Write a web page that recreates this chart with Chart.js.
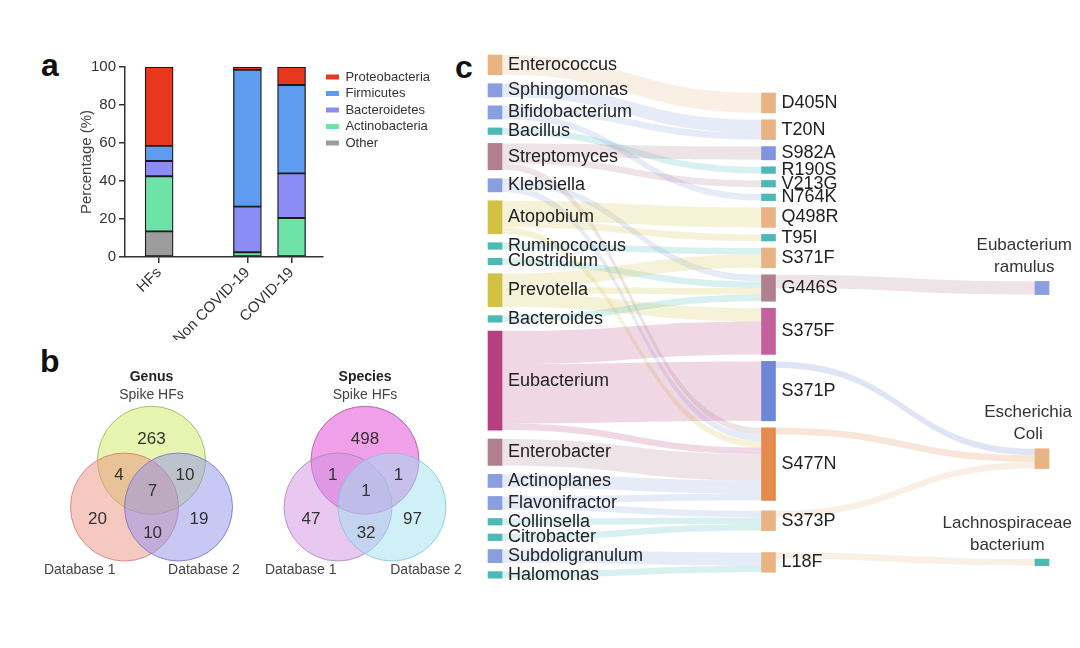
<!DOCTYPE html>
<html>
<head>
<meta charset="utf-8">
<script src="https://cdn.jsdelivr.net/npm/chart.js@4.4.0/dist/chart.umd.min.js"></script>
<style>
  html, body { margin: 0; padding: 0; background: #fff; }
  body { width: 1080px; height: 648px; position: relative; overflow: hidden; font-family: 'Liberation Sans', Arial, sans-serif; }
  .panel-letter { position: absolute; font-weight: bold; font-size: 32px; line-height: 32px; color: #111; }
  .box { position: absolute; }
</style>
</head>
<body>
<div class="panel-letter" style="left:41px;top:49px">a</div>
<div class="panel-letter" style="left:40px;top:345px">b</div>
<div class="panel-letter" style="left:455px;top:51px">c</div>

<div class="box" style="left:30px;top:45px;width:440px;height:295px"><canvas id="barChart"></canvas></div>
<div class="box" style="left:30px;top:345px;width:440px;height:255px"><canvas id="vennChart"></canvas></div>
<div class="box" style="left:460px;top:45px;width:620px;height:555px"><canvas id="sankeyChart"></canvas></div>

<script>
// ---------------- DATA ----------------
// Panel a: stacked composition (%)
const barCategories = ['HFs', 'Non COVID-19', 'COVID-19'];
const other          = [13.5, 0,   0];
const actinobacteria = [29,   2.5, 20.5];
const bacteroidetes  = [8,    24,  23.5];
const firmicutes     = [8,    72,  46.5];
const proteobacteria = [41.5, 1.5, 9.5];
const yTicks = [0, 20, 40, 60, 80, 100];

// Panel b: Venn counts, region order: A only, A∩B, A∩C, A∩B∩C, B only, C only, B∩C
const vennSetNames   = ['Spike HFs', 'Database 1', 'Database 2'];
const genusCounts    = [263, 4, 10, 7, 20, 19, 10];
const speciesCounts  = [498, 1, 1, 1, 47, 97, 32];

// Panel c: Sankey
const genusNames = ['Enterococcus','Sphingomonas','Bifidobacterium','Bacillus','Streptomyces','Klebsiella',
  'Atopobium','Ruminococcus','Clostridium','Prevotella','Bacteroides','Eubacterium','Enterobacter',
  'Actinoplanes','Flavonifractor','Collinsella','Citrobacter','Subdoligranulum','Halomonas'];
const mutationNames = ['D405N','T20N','S982A','R190S','V213G','N764K','Q498R','T95I','S371F','G446S',
  'S375F','S371P','S477N','S373P','L18F'];
const speciesNames = ['Eubacterium ramulus','Escherichia Coli','Lachnospiraceae bacterium'];
const genusToMutation = [
  ['Enterococcus','D405N',3],
  ['Sphingomonas','T20N',2],
  ['Bifidobacterium','T20N',1], ['Bifidobacterium','N764K',1],
  ['Bacillus','R190S',1],
  ['Streptomyces','S982A',2], ['Streptomyces','V213G',1], ['Streptomyces','S477N',1],
  ['Klebsiella','G446S',1], ['Klebsiella','S477N',1],
  ['Atopobium','Q498R',3], ['Atopobium','T95I',1], ['Atopobium','S477N',1],
  ['Ruminococcus','S371F',1],
  ['Clostridium','G446S',1],
  ['Prevotella','S371F',2], ['Prevotella','G446S',1], ['Prevotella','S375F',2],
  ['Bacteroides','G446S',1],
  ['Eubacterium','S375F',5], ['Eubacterium','S371P',9], ['Eubacterium','S477N',1],
  ['Enterobacter','S477N',4],
  ['Actinoplanes','S477N',2],
  ['Flavonifractor','S477N',1], ['Flavonifractor','S373P',1],
  ['Collinsella','S373P',1],
  ['Citrobacter','S373P',1],
  ['Subdoligranulum','L18F',2],
  ['Halomonas','L18F',1]
];
const mutationToSpecies = [
  ['G446S','Eubacterium ramulus',2],
  ['S371P','Escherichia Coli',1],
  ['S477N','Escherichia Coli',1],
  ['S373P','Escherichia Coli',1],
  ['L18F','Lachnospiraceae bacterium',1]
];

// ---------------- STYLES / LAYOUT ----------------
const FONT = "'Liberation Sans', Arial, Helvetica, sans-serif";
Chart.defaults.font.family = FONT;
const phylaStyle = [
  { label: 'Other',          values: other,          color: '#9c9c9c' },
  { label: 'Actinobacteria', values: actinobacteria, color: '#6fe3a7' },
  { label: 'Bacteroidetes',  values: bacteroidetes,  color: '#8b8cf5' },
  { label: 'Firmicutes',     values: firmicutes,     color: '#5d9cef' },
  { label: 'Proteobacteria', values: proteobacteria, color: '#e8361f' }
];
const xSlots = [1, 3, 4];   // slot positions of the three bars (gap after HFs)

const C = { tan:'#e9b384', blue:'#8a9fe0', teal:'#4cb9b6', mauve:'#b0808f', olive:'#d3c143',
            magenta:'#b6407f', pink:'#c4619c', royal:'#6d86d6', orange:'#e38a4c', sblue:'#7f95e0' };
const nodeColors = {
  Enterococcus:C.tan, Sphingomonas:C.blue, Bifidobacterium:C.blue, Bacillus:C.teal, Streptomyces:C.mauve,
  Klebsiella:C.blue, Atopobium:C.olive, Ruminococcus:C.teal, Clostridium:C.teal, Prevotella:C.olive,
  Bacteroides:C.teal, Eubacterium:C.magenta, Enterobacter:C.mauve, Actinoplanes:C.blue, Flavonifractor:C.blue,
  Collinsella:C.teal, Citrobacter:C.teal, Subdoligranulum:C.blue, Halomonas:C.teal,
  D405N:C.tan, T20N:C.tan, S982A:C.sblue, R190S:C.teal, V213G:C.teal, N764K:C.teal, Q498R:C.tan, T95I:C.teal,
  S371F:C.tan, G446S:C.mauve, S375F:C.pink, S371P:C.royal, S477N:C.orange, S373P:C.tan, L18F:C.tan,
  'Eubacterium ramulus':C.blue, 'Escherichia Coli':C.tan, 'Lachnospiraceae bacterium':C.teal
};
const sankeyCfg = { unitPx: 6.6, startPx: [10, 48], padPx: [8.9, 7, 7], bottomPx: 533,
                    colMin: -0.128, colMax: 2.139, nodeWidth: 14 };

function hexA(hex, a) {
  const n = parseInt(hex.slice(1), 16);
  return `rgba(${(n>>16)&255},${(n>>8)&255},${n&255},${a})`;
}

// ---------------- PANEL A ----------------
new Chart(document.getElementById('barChart'), {
  type: 'bar',
  data: {
    datasets: phylaStyle.map(p => ({
      label: p.label,
      data: p.values.map((v, i) => ({ x: xSlots[i], y: v })),
      backgroundColor: p.color,
      borderColor: '#1b1b1b',
      borderWidth: 1.3,
      borderSkipped: false,
      barThickness: 28
    }))
  },
  options: {
    responsive: true, maintainAspectRatio: false, animation: false, events: [],
    layout: { padding: { top: 22, right: 30, left: 48, bottom: 0 } },
    scales: {
      x: {
        type: 'linear', stacked: true, min: 0.227, max: 4.70, offset: false,
        afterBuildTicks: s => { s.ticks = xSlots.map(v => ({ value: v })); },
        afterFit: s => { s.height = 83; },
        ticks: { autoSkip: false, minRotation: 45, maxRotation: 45, padding: 1, color: '#333', font: { size: 15 },
                 callback: v => barCategories[xSlots.indexOf(v)] },
        grid: { offset: false, drawOnChartArea: false, drawTicks: true, tickLength: 6, color: '#333', lineWidth: 1.5 },
        border: { display: true, color: '#333', width: 1.5 }
      },
      y: {
        stacked: true, min: 0, max: 100,
        afterBuildTicks: s => { s.ticks = yTicks.map(v => ({ value: v })); },
        afterFit: s => { s.width = 47; },
        ticks: { color: '#333', font: { size: 15 }, padding: 3 },
        grid: { drawOnChartArea: false, drawTicks: true, tickLength: 6, color: '#333', lineWidth: 1.5 },
        border: { display: true, color: '#333', width: 1.5 },
        title: { display: true, text: 'Percentage (%)', color: '#444', font: { size: 15 }, padding: { top: 0, bottom: 0 } }
      }
    },
    plugins: {
      tooltip: { enabled: false },
      legend: {
        position: 'right', align: 'start', reverse: true, maxWidth: 125,
        labels: {
          boxWidth: 13, boxHeight: 5, padding: 3.5, color: '#333', font: { size: 13 },
          generateLabels: chart => Chart.defaults.plugins.legend.labels.generateLabels(chart)
            .map(l => Object.assign(l, { lineWidth: 0, strokeStyle: 'rgba(0,0,0,0)' }))
        }
      }
    }
  }
});

// ---------------- PANEL B ----------------
const vennUnitPx = 54;
const vennCircleOffsets = [[0, 0.866], [-0.5, 0], [0.5, 0]];            // equilateral 3-set layout (radius units)
const vennRegionSpots = [[0, 1.26], [-0.6, 0.58], [0.62, 0.58], [0.02, 0.29], [-1.0, -0.22], [0.88, -0.22], [0.02, -0.48]];
const vennGroups = [
  { title: 'Genus',   counts: genusCounts,   dx: 0,
    fills: ['rgba(209,235,97,0.5)', 'rgba(235,145,129,0.5)', 'rgba(145,145,235,0.5)'],
    strokes: ['rgba(140,185,80,0.8)', 'rgba(215,120,115,0.8)', 'rgba(120,110,200,0.8)'],
    dbX: [-1.33, 0.97] },
  { title: 'Species', counts: speciesCounts, dx: 3.954,
    fills: ['rgba(225,65,209,0.5)', 'rgba(209,145,225,0.5)', 'rgba(161,225,241,0.5)'],
    strokes: ['rgba(170,80,160,0.8)', 'rgba(175,130,195,0.8)', 'rgba(130,195,215,0.8)'],
    dbX: [-1.19, 1.13] }
];
const vennW = 440, vennH = 255;
const vennOrigin = [121.5, 162];
const vennPlugin = {
  id: 'vennText',
  afterDatasetsDraw(chart) {
    const { ctx, scales: { x, y } } = chart;
    ctx.save();
    ctx.textAlign = 'center'; ctx.textBaseline = 'middle';
    vennGroups.forEach(g => {
      ctx.fillStyle = '#333';
      ctx.font = `17px ${FONT}`;
      g.counts.forEach((c, i) => {
        const s = vennRegionSpots[i];
        ctx.fillText(String(c), x.getPixelForValue(g.dx + s[0]), y.getPixelForValue(s[1]));
      });
      ctx.fillStyle = '#222';
      ctx.font = `bold 14px ${FONT}`;
      ctx.fillText(g.title, x.getPixelForValue(g.dx), y.getPixelForValue(2.41));
      ctx.fillStyle = '#444';
      ctx.font = `14px ${FONT}`;
      ctx.fillText(vennSetNames[0], x.getPixelForValue(g.dx), y.getPixelForValue(2.07));
      ctx.fillText(vennSetNames[1], x.getPixelForValue(g.dx + g.dbX[0]), y.getPixelForValue(-1.17));
      ctx.fillText(vennSetNames[2], x.getPixelForValue(g.dx + g.dbX[1]), y.getPixelForValue(-1.17));
    });
    ctx.restore();
  }
};
new Chart(document.getElementById('vennChart'), {
  type: 'scatter',
  data: {
    datasets: vennGroups.map(g => ({
      data: vennCircleOffsets.map(o => ({ x: g.dx + o[0], y: o[1] })),
      pointBackgroundColor: g.fills,
      pointBorderColor: g.strokes,
      pointBorderWidth: 1,
      pointRadius: ctx => ctx.chart.scales.x.getPixelForValue(1) - ctx.chart.scales.x.getPixelForValue(0),
      clip: false
    }))
  },
  options: {
    responsive: true, maintainAspectRatio: false, animation: false, events: [],
    layout: { padding: 0 },
    scales: {
      x: { type: 'linear', display: false, min: -vennOrigin[0] / vennUnitPx, max: (vennW - vennOrigin[0]) / vennUnitPx },
      y: { type: 'linear', display: false, min: -(vennH - vennOrigin[1]) / vennUnitPx, max: vennOrigin[1] / vennUnitPx }
    },
    plugins: { legend: { display: false }, tooltip: { enabled: false } }
  },
  plugins: [vennPlugin]
});

// ---------------- PANEL C ----------------
function buildSankey() {
  const cols = [genusNames, mutationNames, speciesNames];
  const nodes = {};
  cols.forEach((names, c) => names.forEach((n, i) => {
    nodes[n] = { name: n, col: c, idx: i, inV: 0, outV: 0, ins: [], outs: [] };
  }));
  const links = genusToMutation.concat(mutationToSpecies).map(([s, t, v]) => ({ s: nodes[s], t: nodes[t], v }));
  links.forEach(l => { l.s.outV += l.v; l.t.inV += l.v; l.s.outs.push(l); l.t.ins.push(l); });
  Object.values(nodes).forEach(n => { n.v = Math.max(n.inV, n.outV); });
  const u = sankeyCfg.unitPx;
  const target = n => n.ins.reduce((a, l) => a + l.v * (l.s.y0 + l.s.v / 2), 0) / n.inV - n.v / 2;
  cols.forEach((names, c) => {
    const list = names.map(n => nodes[n]);
    const pad = sankeyCfg.padPx[c] / u;
    if (c < 2) {
      let y = sankeyCfg.startPx[c] / u;
      list.forEach(n => { n.y0 = y; y += n.v + pad; });
      if (c === 1) {
        for (let i = list.length - 1; i >= 0; i--) {
          const n = list[i];
          const limit = (i === list.length - 1 ? sankeyCfg.bottomPx / u : list[i + 1].y0 - pad) - n.v;
          n.y0 = Math.max(n.y0, Math.min(target(n), limit));
        }
      }
    } else {
      let prev = -Infinity;
      list.forEach(n => { n.y0 = Math.max(target(n), prev + pad); prev = n.y0 + n.v; });
    }
  });
  Object.values(nodes).forEach(n => {
    let a = n.y0;
    n.outs.sort((p, q) => p.t.y0 - q.t.y0).forEach(l => { l.sy0 = a; a += l.v; });
    let b = n.y0;
    n.ins.sort((p, q) => p.s.y0 - q.s.y0).forEach(l => { l.ty0 = b; b += l.v; });
  });
  return { nodes: Object.values(nodes), links };
}
const sankey = buildSankey();

const sankeyPlugin = {
  id: 'sankeyDraw',
  beforeDatasetsDraw(chart) {
    const { ctx, scales: { x, y } } = chart;
    const half = sankeyCfg.nodeWidth / 2;
    ctx.save();
    sankey.links.forEach(l => {
      const x0 = x.getPixelForValue(l.s.col) + half, x1 = x.getPixelForValue(l.t.col) - half;
      const a0 = y.getPixelForValue(l.sy0), a1 = y.getPixelForValue(l.sy0 + l.v);
      const b0 = y.getPixelForValue(l.ty0), b1 = y.getPixelForValue(l.ty0 + l.v);
      const xm = (x0 + x1) / 2;
      ctx.beginPath();
      ctx.moveTo(x0, a0);
      ctx.bezierCurveTo(xm, a0, xm, b0, x1, b0);
      ctx.lineTo(x1, b1);
      ctx.bezierCurveTo(xm, b1, xm, a1, x0, a1);
      ctx.closePath();
      ctx.fillStyle = hexA(nodeColors[l.s.name], 0.21);
      ctx.fill();
    });
    ctx.restore();
  },
  afterDatasetsDraw(chart) {
    const { ctx, scales: { x, y } } = chart;
    const half = sankeyCfg.nodeWidth / 2;
    ctx.save();
    sankey.nodes.forEach(n => {
      const cx = x.getPixelForValue(n.col);
      if (n.col < 2) {
        ctx.font = `18px ${FONT}`;
        ctx.fillStyle = '#222';
        ctx.textAlign = 'left'; ctx.textBaseline = 'middle';
        ctx.fillText(n.name, cx + half + 6, y.getPixelForValue(n.y0 + n.v / 2));
      } else {
        ctx.font = `17px ${FONT}`;
        ctx.fillStyle = '#333';
        ctx.textAlign = 'center'; ctx.textBaseline = 'middle';
        const lines = n.name.split(' ');
        const maxW = Math.max(...lines.map(t => ctx.measureText(t).width));
        const lx = Math.min(cx, chart.width - 8 - maxW / 2);
        const top = y.getPixelForValue(n.y0);
        lines.forEach((t, i) => ctx.fillText(t, lx, top - 14 - (lines.length - 1 - i) * 22));
      }
    });
    ctx.restore();
  }
};
new Chart(document.getElementById('sankeyChart'), {
  type: 'bar',
  data: {
    datasets: [{
      data: sankey.nodes.map(n => ({ x: n.col, y: [n.y0, n.y0 + n.v] })),
      backgroundColor: sankey.nodes.map(n => nodeColors[n.name]),
      borderWidth: 0,
      barThickness: sankeyCfg.nodeWidth
    }]
  },
  options: {
    responsive: true, maintainAspectRatio: false, animation: false, events: [],
    layout: { padding: 0 },
    scales: {
      x: { type: 'linear', display: false, offset: false, grid: { offset: false }, min: sankeyCfg.colMin, max: sankeyCfg.colMax },
      y: { type: 'linear', display: false, reverse: true, min: 0, max: 555 / sankeyCfg.unitPx }
    },
    plugins: { legend: { display: false }, tooltip: { enabled: false } }
  },
  plugins: [sankeyPlugin]
});
</script>
</body>
</html>
